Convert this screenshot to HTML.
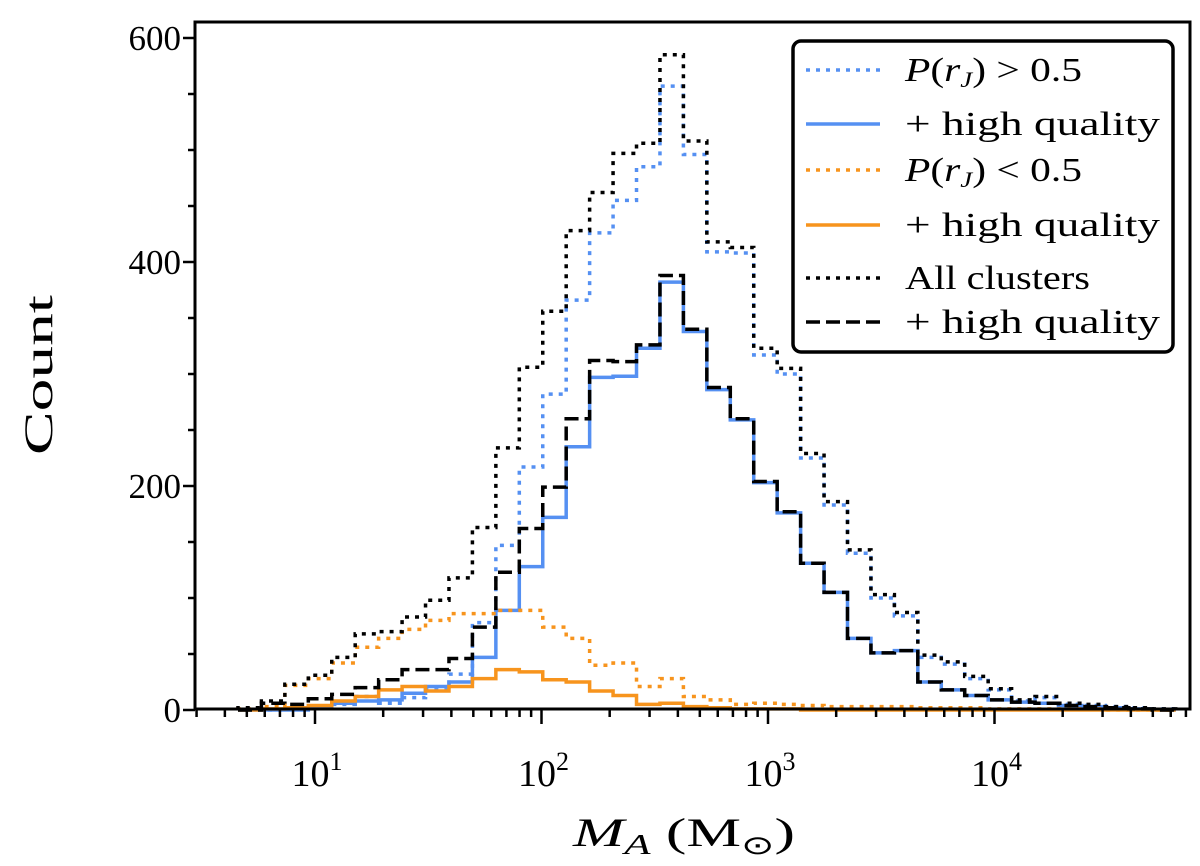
<!DOCTYPE html>
<html><head><meta charset="utf-8"><style>
body{margin:0;background:#fff;}
svg{display:block;font-family:"Liberation Serif",serif;}
</style></head><body>
<svg id="chart" width="1200" height="866" viewBox="0 0 1200 866">
<g id="marks"></g>
<g id="axes"></g>
<g id="legend"></g>
</svg>
<script>
const binStartLog = 0.66;
const binWidthLog = 0.1035;
const blueDotted = [0,0,1,3,5,12,6,11,18,32,78,147,217,282,366,426,455,485,557,496,409,408,317,300,225,183,140,100,84,47,41,28,18,8,11,5,4,3,2,1];
const blueSolid  = [0,0,0,2,6,8,9,15,21,25,47,89,128,172,235,297,298,323,382,338,286,259,203,176,131,105,64,51,53,25,18,13,9,7,6,4,3,2,1,0];
const orangeDotted=[1,3,22,28,42,56,64,72,80,86,86,89,89,74,64,40,42,21,28,12,9,5,6,5,4,3,3,3,3,2,2,2,1,1,1,1,1,0,0,0];
const orangeSolid =[0,1,2,4,8,12,18,21,17,21,28,36,34,27,25,17,13,5,6,3,2,1,1,1,0,0,0,0,0,0,0,0,0,0,0,0,0,0,0,0];
const allDotted  = [2,8,23,31,47,68,70,83,98,118,163,234,306,356,428,462,497,506,585,508,418,413,323,305,229,186,143,103,87,49,43,30,19,9,12,6,5,3,2,1];
const allSolid   = [0,6,5,10,14,20,27,36,36,46,74,123,162,199,260,312,311,326,388,340,288,260,204,177,131,105,64,51,53,25,18,13,9,7,6,4,3,2,1,0];
const yTicks = [0,200,400,600];
const xTickExps = [1,2,3,4];

const NS="http://www.w3.org/2000/svg";
const L=195,R=1190,T=22,B=709;
function xs(lg){return 315+(lg-1)*226.5;}
function ys(v){return 710-v*1.12;}
function mk(tag,attrs,parent){const e=document.createElementNS(NS,tag);for(const k in attrs)e.setAttribute(k,attrs[k]);parent.appendChild(e);return e;}
const marks=document.getElementById('marks'),axes=document.getElementById('axes'),legend=document.getElementById('legend');
const BLUE="#5590f2",ORANGE="#f7941d";
const series=[
 {d:blueDotted,c:BLUE,dash:"4 6",n:"series-p-gt-0.5"},
 {d:blueSolid,c:BLUE,dash:"",n:"series-p-gt-0.5-high-quality"},
 {d:orangeDotted,c:ORANGE,dash:"4 6",n:"series-p-lt-0.5"},
 {d:orangeSolid,c:ORANGE,dash:"",n:"series-p-lt-0.5-high-quality"},
 {d:allDotted,c:"#000",dash:"4 6",n:"series-all-clusters"},
 {d:allSolid,c:"#000",dash:"14 6",n:"series-all-high-quality"}];
series.forEach(s=>{
  let p="M"+xs(binStartLog)+","+ys(0);
  s.d.forEach((v,i)=>{const x0=xs(binStartLog+i*binWidthLog),x1=xs(binStartLog+(i+1)*binWidthLog);p+=" L"+x0+","+ys(v)+" L"+x1+","+ys(v);});
  p+=" L"+xs(binStartLog+s.d.length*binWidthLog)+","+ys(0);
  const e=mk('path',{d:p,fill:"none",stroke:s.c,"stroke-width":3.5,"stroke-dasharray":s.dash},marks);
  
  
});
const fr=mk('rect',{x:L,y:T,width:R-L,height:B-T,fill:"none",stroke:"#000","stroke-width":3},axes);


for(let v=0;v<=600;v+=50){const major=v%200===0;mk('line',{x1:L,x2:L-(major?12:7),y1:ys(v),y2:ys(v),stroke:"#000","stroke-width":2.5},axes);}
yTicks.forEach(v=>{const t=mk('text',{x:181,y:ys(v)+12,"text-anchor":"end","font-size":35},axes);t.textContent=v;
  
  });
for(let e=0;e<=4;e++){for(let m=1;m<=9;m++){const lg=e+Math.log10(m);const x=xs(lg);if(x<L||x>R)continue;
  mk('line',{x1:x,x2:x,y1:B,y2:B+(m===1?15:8),stroke:"#000","stroke-width":2.5},axes);}}
xTickExps.forEach(e=>{const t=mk('text',{x:xs(e)+2,y:786,"text-anchor":"middle","font-size":38},axes);
  t.innerHTML='10<tspan dy="-16" font-size="26">'+e+'</tspan>';
  
  });
const xl=mk('text',{x:573,y:846,"font-size":40,textLength:222,lengthAdjust:"spacingAndGlyphs"},axes);
xl.innerHTML='<tspan font-style="italic">M</tspan><tspan font-style="italic" font-size="28" dy="8">A</tspan><tspan dy="-8"> (M</tspan><tspan font-size="26" dy="8">⊙</tspan><tspan dy="-8">)</tspan>';


const yl=mk('text',{x:52,y:375,"text-anchor":"middle","font-size":40,textLength:160,lengthAdjust:"spacingAndGlyphs",transform:"rotate(-90 52 375)"},axes);
yl.textContent='Count';


const lb=mk('rect',{x:793,y:41,width:380,height:311,rx:8,fill:"#fff",stroke:"#000","stroke-width":3.5},legend);


const labels=['<tspan font-style="italic">P</tspan>(<tspan font-style="italic">r</tspan><tspan font-style="italic" font-size="22" dy="6">J</tspan><tspan dy="-6">) &gt; 0.5</tspan>','+ high quality','<tspan font-style="italic">P</tspan>(<tspan font-style="italic">r</tspan><tspan font-style="italic" font-size="22" dy="6">J</tspan><tspan dy="-6">) &lt; 0.5</tspan>','+ high quality','All clusters','+ high quality'];
const widths=[177,255,177,255,185,255];
const rowY=[70,124,170,225,278,322];
series.forEach((s,i)=>{
  const ln=mk('line',{x1:806,x2:880,y1:rowY[i],y2:rowY[i],stroke:s.c,"stroke-width":3.5,"stroke-dasharray":s.dash},legend);
  
  
  const t=mk('text',{x:905,y:rowY[i]+11,"font-size":34,textLength:widths[i],lengthAdjust:"spacingAndGlyphs"},legend);
  t.innerHTML=labels[i];
  
  
});
</script>
</body></html>
